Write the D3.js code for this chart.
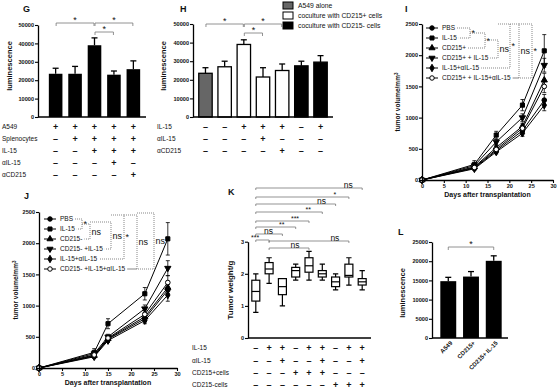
<!DOCTYPE html>
<html><head><meta charset="utf-8">
<script src="https://cdn.jsdelivr.net/npm/d3@7"></script>
<style>body{margin:0;background:#fff}svg{display:block}text{font-family:"Liberation Sans",Arial,sans-serif;fill:#111}</style>
</head><body><svg id="c" width="560" height="391"></svg>
<script>
// ---------- DATA ----------
const gConditions = ["A549","Splenocytes","IL-15","αIL-15","αCD215"];
const gSigns = [["+","+","+","+","+"],["-","+","+","+","+"],["-","-","+","+","+"],["-","-","-","+","-"],["-","-","-","-","+"]];
const gValues = [23500,23500,39000,23000,26000];
const gErrors = [3000,4000,4000,2000,4500];
const barTicks = [0,10000,20000,30000,40000,50000];
const gSig = [[0,2,0,"*"],[2,4,0,"*"],[2,3,1,"*"]];

const hLegend = ["A549 alone","coculture with CD215+ cells","coculture with CD215- cells"];
const hGroups = [0,1,1,1,1,2,2];
const hValues = [23500,27000,39000,21500,25000,27500,29500];
const hErrors = [3000,3000,2500,5000,3500,2500,3500];
const hConditions = ["IL-15","αIL-15","αCD215"];
const hSigns = [["-","-","+","+","+","-","+"],["-","-","-","+","-","-","-"],["-","-","-","-","+","-","-"]];
const hSig = [[0,2,0,"*"],[2,4,0,"*"],[2,3,1,"*"]];

const lineTicksY = [0,500,1000,1500,2000,2500];
const lineTicksX = [0,5,10,15,20,25,30];
const symbols = ["circle","square","triangle","triangleDown","diamond","open"];

const iDays = [0,12,17,23,28];
const iNames = ["PBS","IL-15","CD215+","CD215+ + IL-15","IL-15+αIL-15","CD215+ + IL-15+αIL-15"];
const iValues = [[0,190,470,790,1280],[0,250,720,1200,2070],[0,210,520,860,1600],[0,230,610,1000,1840],[0,180,450,750,1200],[0,200,490,830,1500]];
const iErrors = [[0,25,30,50,90],[0,60,60,90,260],[0,25,35,50,110],[0,30,40,60,110],[0,25,30,50,90],[0,25,35,50,100]];
const iBrackets = [[0,null,1,470,"*"],[null,33,2,485,"*"],[null,40,3,498,"ns"],[null,24,4,510,"*"],[null,24,5,519,"ns"],[null,24,5,532,"*"]];

const jDays = [0,12,15,23,28];
const jNames = ["PBS","IL-15","CD215-","CD215- +IL-15","IL-15+αIL-15","CD215- +IL-15+αIL-15"];
const jValues = [[0,190,460,790,1250],[0,250,710,1190,2070],[0,200,470,820,1290],[0,230,500,950,1600],[0,180,440,760,1170],[0,210,480,860,1370]];
const jErrors = [[0,25,30,50,90],[0,60,80,100,260],[0,25,30,50,100],[0,30,40,60,120],[0,25,30,50,100],[0,25,30,55,110]];
const jBrackets = [[0,null,1,82,"*"],[null,224,2,90,"ns"],[null,222,3,111,"ns"],[null,215,4,124,"*"],[null,215,5,137,"ns"],[null,213,5,154,"ns"]];

const kMin = [0.8,1.7,1.0,1.8,1.8,1.8,1.5,1.65,1.5];
const kQ1  = [1.15,2.0,1.35,1.9,2.05,1.9,1.6,1.9,1.65];
const kMed = [1.45,2.15,1.6,2.1,2.25,2.0,1.75,1.95,1.75];
const kQ3  = [1.8,2.35,1.85,2.2,2.5,2.1,1.9,2.3,1.85];
const kMax = [2.0,2.5,1.85,2.3,2.7,2.3,2.0,2.5,2.1];
const kTicks = [0,1,2,3];
const kConditions = ["IL-15","αIL-15","CD215+cells","CD215-cells"];
const kSigns = [["-","+","+","-","+","+","-","+","+"],["-","-","+","-","-","+","-","-","+"],["-","-","-","+","+","+","-","-","-"],["-","-","-","-","-","-","+","+","+"]];
const kSig = [[0,8,188,"ns"],[0,7,197,"*"],[0,6,204,"ns"],[0,5,212,"**"],[0,4,221,"***"],[0,3,227,"**"],[0,2,234,"ns"],[0,1,240,"***"],[1,7,241,"ns"],[1,4,248,"ns"]];

const lCategories = ["A549","CD215+","CD215+ IL-15"];
const lValues = [14800,16000,20100];
const lErrors = [1000,1300,1300];
const lTicks = [0,5000,10000,15000,20000,25000];

// ---------- HELPERS ----------
const svg = d3.select("#c");
const SANS = '"Liberation Sans",Arial,sans-serif';
const SERIF = '"Liberation Serif","Times New Roman",serif';

function title(x,y,t){svg.append("text").attr("x",x).attr("y",y).attr("font-size",9).attr("font-weight","bold").text(t);}
function yAxis(scale,x,ticks,fmt){
  const g = svg.append("g").attr("transform",`translate(${x},0)`)
    .call(d3.axisLeft(scale).tickValues(ticks).tickSize(3).tickSizeOuter(0).tickPadding(1).tickFormat(fmt||d3.format("d")));
  g.select(".domain").attr("stroke","#000").attr("stroke-width",1.3);
  g.selectAll(".tick line").attr("stroke","#000").attr("stroke-width",1.1);
  g.selectAll(".tick text").attr("font-size",5.6).attr("font-weight","bold").attr("font-family",SANS).attr("fill","#111");
  return g;
}
function yLabel(x,y,t,size){svg.append("text").attr("transform",`translate(${x},${y}) rotate(-90)`).attr("text-anchor","middle").attr("font-size",size||7.5).attr("font-weight","bold").text(t);}
function hline(x1,x2,y,w){svg.append("line").attr("x1",x1).attr("x2",x2).attr("y1",y).attr("y2",y).attr("stroke","#000").attr("stroke-width",w||1.3);}
function signTable(xs,conds,signs,rowsY,labelX){
  conds.forEach((c,r)=>{
    svg.append("text").attr("x",labelX).attr("y",rowsY[r]).attr("dy","0.35em").attr("font-size",6.5).attr("fill","#333").text(c);
    signs[r].forEach((s,i)=>{
      svg.append("text").attr("x",xs(i)).attr("y",rowsY[r]).attr("dy","0.35em").attr("text-anchor","middle")
        .attr("font-size",9).attr("font-weight","bold").text(s==="+"?"+":"–");
    });
  });
}
function barSig(xc,sig,yBase,step){
  sig.forEach(([a,b,lvl,lab])=>{
    const y = yBase + lvl*step;
    const x1 = xc(a)+0.5, x2 = xc(b)-0.5;
    svg.append("path").attr("d",`M${x1},${y+3}V${y}H${x2}V${y+3}`).attr("fill","none").attr("stroke","#777").attr("stroke-width",0.8);
    svg.append("text").attr("x",(x1+x2)/2).attr("y",y-0.5).attr("text-anchor","middle").attr("font-size",9).attr("fill","#555").text(lab);
  });
}
function errBar(x,yTop,yVal,w){
  svg.append("line").attr("x1",x).attr("x2",x).attr("y1",yVal).attr("y2",yTop).attr("stroke","#000").attr("stroke-width",1.3);
  svg.append("line").attr("x1",x-w).attr("x2",x+w).attr("y1",yTop).attr("y2",yTop).attr("stroke","#000").attr("stroke-width",1.3);
}
function marker(g,x,y,type,size){
  let sym, rot=0, fill="#000";
  if(type==="circle") sym=d3.symbolCircle;
  else if(type==="square") sym=d3.symbolSquare;
  else if(type==="triangle") sym=d3.symbolTriangle;
  else if(type==="triangleDown"){sym=d3.symbolTriangle;rot=180;}
  else if(type==="diamond") sym=d3.symbolDiamond;
  else {sym=d3.symbolCircle;fill="#fff";}
  g.append("path").attr("d",d3.symbol().type(sym).size(size||16)()).attr("transform",`translate(${x},${y}) rotate(${rot})`)
    .attr("fill",fill).attr("stroke","#000").attr("stroke-width",1);
}

// ---------- PANEL G ----------
title(23,12,"G");
const yG = d3.scaleLinear().domain([0,50000]).range([117,25]);
const xG = d3.scaleBand().domain(d3.range(gValues.length)).range([43,146]).padding(0.3);
const cG = i=>xG(i)+xG.bandwidth()/2;
gValues.forEach((v,i)=>{
  errBar(cG(i),yG(v+gErrors[i]),yG(v),3);
  svg.append("rect").attr("x",xG(i)).attr("y",yG(v)).attr("width",xG.bandwidth()).attr("height",yG(0)-yG(v)).attr("fill","#000");
});
yAxis(yG,38,barTicks);
hline(38,146,117);
yLabel(12,66,"luminescence");
barSig(cG,gSig,23,9);
signTable(cG,gConditions,gSigns,[127,139,151,163,175],2);

// ---------- PANEL H ----------
title(180,12,"H");
const yH = d3.scaleLinear().domain([0,50000]).range([117,24]);
const xH = d3.scaleBand().domain(d3.range(hValues.length)).range([193,333]).padding(0.3);
const cH = i=>xH(i)+xH.bandwidth()/2;
const hFill = ["#666","#fff","#000"];
hValues.forEach((v,i)=>{
  errBar(cH(i),yH(v+hErrors[i]),yH(v),3);
  svg.append("rect").attr("x",xH(i)).attr("y",yH(v)).attr("width",xH.bandwidth()).attr("height",yH(0)-yH(v))
    .attr("fill",hFill[hGroups[i]]).attr("stroke","#000").attr("stroke-width",1.3);
});
yAxis(yH,193,barTicks);
hline(193,333,117);
yLabel(166,66,"luminescence");
barSig(cH,hSig,24,9);
signTable(cH,hConditions,hSigns,[127,139,151],157);
hLegend.forEach((t,i)=>{
  svg.append("rect").attr("x",283).attr("y",2+i*10).attr("width",10).attr("height",7).attr("fill",hFill[i]).attr("stroke","#000").attr("stroke-width",1);
  svg.append("text").attr("x",298).attr("y",5.5+i*10).attr("dy","0.35em").attr("font-size",6.8).text(t);
});

// ---------- LINE PANELS ----------
function linePanel(cfg){
  const x = d3.scaleLinear().domain([0,30]).range(cfg.xr);
  const y = d3.scaleLinear().domain([0,2500]).range(cfg.yr);
  const g = svg.append("g");
  cfg.values.forEach((vals,s)=>{
    const pts = cfg.days.map((d,i)=>[x(d),y(vals[i])]);
    g.append("path").attr("d",d3.line()(pts)).attr("fill","none").attr("stroke","#000").attr("stroke-width",1);
    cfg.days.forEach((d,i)=>{
      const e = cfg.errors[s][i];
      if(e>0){
        const px=x(d);
        g.append("path").attr("d",`M${px},${y(vals[i]-e)}V${y(vals[i]+e)}M${px-2},${y(vals[i]+e)}H${px+2}M${px-2},${y(vals[i]-e)}H${px+2}`)
          .attr("stroke","#000").attr("stroke-width",0.8).attr("fill","none");
      }
    });
  });
  cfg.values.forEach((vals,s)=>cfg.days.forEach((d,i)=>marker(g,x(d),y(vals[i]),symbols[s],17)));
  yAxis(y,cfg.xr[0],lineTicksY);
  const ax = svg.append("g").attr("transform",`translate(0,${cfg.yr[0]})`)
    .call(d3.axisBottom(x).tickValues(lineTicksX).tickSize(3).tickSizeOuter(0).tickPadding(1));
  ax.select(".domain").attr("stroke","#000").attr("stroke-width",1.3);
  ax.selectAll(".tick line").attr("stroke","#000").attr("stroke-width",1.1);
  ax.selectAll(".tick text").attr("font-size",5.6).attr("font-weight","bold").attr("font-family",SANS).attr("fill","#111");
  svg.append("text").attr("x",(cfg.xr[0]+cfg.xr[1])/2).attr("y",cfg.yr[0]+17).attr("text-anchor","middle").attr("font-size",7).attr("font-weight","bold").text("Days after transplantation");
  const yl = svg.append("text").attr("transform",`translate(${cfg.ylx},${(cfg.yr[0]+cfg.yr[1])/2}) rotate(-90)`).attr("text-anchor","middle").attr("font-size",6.5).attr("font-weight","bold");
  yl.append("tspan").text("tumor volume/mm");
  yl.append("tspan").attr("dy",-2.5).attr("font-size",4.5).text("3");
  const ends = [];
  cfg.names.forEach((n,i)=>{
    const ly = cfg.legY + i*cfg.legStep;
    svg.append("line").attr("x1",cfg.legX-6).attr("x2",cfg.legX+6).attr("y1",ly).attr("y2",ly).attr("stroke","#000").attr("stroke-width",1);
    marker(svg,cfg.legX,ly,symbols[i],16);
    const t = svg.append("text").attr("x",cfg.legX+10).attr("y",ly).attr("dy","0.35em").attr("font-size",6.5).text(n);
    ends.push(cfg.legX+10+t.node().getComputedTextLength()+2);
  });
  const rowY = i=>cfg.legY + i*cfg.legStep;
  let prevX = null;
  cfg.brackets.forEach(([topRow,topY,botRow,xv,lab])=>{
    const yt = topRow!==null ? rowY(topRow) : topY;
    const xs = topRow!==null ? ends[topRow] : prevX;
    const yb = rowY(botRow);
    svg.append("path").attr("d",`M${xs},${yt}H${xv}V${yb}H${ends[botRow]}`).attr("fill","none").attr("stroke","#555").attr("stroke-width",0.7).attr("stroke-dasharray","1,1");
    svg.append("text").attr("x",xv+1.5).attr("y",(yt+yb)/2).attr("dy","0.35em").attr("font-family",SERIF).attr("font-size",9).attr("fill","#444").text(lab);
    prevX = xv;
  });
}
title(405,12,"I");
linePanel({xr:[422,553],yr:[180,24],days:iDays,values:iValues,errors:iErrors,names:iNames,ylx:400,legX:432,legY:28,legStep:10,brackets:iBrackets});
title(24,199,"J");
linePanel({xr:[39,177],yr:[368,212],days:jDays,values:jValues,errors:jErrors,names:jNames,ylx:18,legX:50,legY:219,legStep:10,brackets:jBrackets});

// ---------- PANEL K ----------
title(228,195,"K");
const yK = d3.scaleLinear().domain([0,3]).range([338,241.7]);
const xK = d3.scaleBand().domain(d3.range(kMed.length)).range([246.5,371.5]).padding(0.4);
const cK = i=>xK(i)+xK.bandwidth()/2;
kMed.forEach((m,i)=>{
  const c=cK(i), w=xK.bandwidth();
  svg.append("path").attr("d",`M${c},${yK(kMin[i])}V${yK(kQ1[i])}M${c},${yK(kQ3[i])}V${yK(kMax[i])}M${c-w/3},${yK(kMin[i])}H${c+w/3}M${c-w/3},${yK(kMax[i])}H${c+w/3}`)
    .attr("stroke","#000").attr("stroke-width",1.2).attr("fill","none");
  svg.append("rect").attr("x",xK(i)).attr("y",yK(kQ3[i])).attr("width",w).attr("height",yK(kQ1[i])-yK(kQ3[i])).attr("fill","#fff").attr("stroke","#000").attr("stroke-width",1.2);
  hline(xK(i),xK(i)+w,yK(m),1.2);
});
yAxis(yK,248,kTicks);
hline(248,371,338);
yLabel(233,290,"Tumor weight/g",8);
kSig.forEach(([a,b,y,lab])=>{
  const x1=cK(a), x2=cK(b);
  svg.append("path").attr("d",`M${x1},${y+2}V${y}H${x2}V${y+2}`).attr("fill","none").attr("stroke","#666").attr("stroke-width",0.7);
  svg.append("text").attr("x",x2-14).attr("y",y-0.5).attr("text-anchor","middle").attr("font-family",SERIF).attr("font-size",lab==="ns"?8.5:7).attr("fill","#555").text(lab);
});
signTable(cK,kConditions,kSigns,[348,361,373,385],192);

// ---------- PANEL L ----------
title(398,235,"L");
const yL = d3.scaleLinear().domain([0,25000]).range([338,242]);
const xL = d3.scaleBand().domain(lCategories).range([433.5,508.5]).padding(0.3);
lCategories.forEach((c,i)=>{
  const cx = xL(c)+xL.bandwidth()/2;
  errBar(cx,yL(lValues[i]+lErrors[i]),yL(lValues[i]),3);
  svg.append("rect").attr("x",xL(c)).attr("y",yL(lValues[i])).attr("width",xL.bandwidth()).attr("height",yL(0)-yL(lValues[i])).attr("fill","#000");
  svg.append("text").attr("transform",`translate(${cx+3},${342}) rotate(-45)`).attr("text-anchor","end").attr("dy","0.35em").attr("font-size",6).attr("font-weight","bold").text(c);
});
yAxis(yL,432,lTicks);
hline(432,508,338);
yLabel(405,293,"luminescence");
{
  const x1=xL("A549")+xL.bandwidth()/2, x2=xL("CD215+ IL-15")+xL.bandwidth()/2, y=247;
  svg.append("path").attr("d",`M${x1},${y+3}V${y}H${x2}V${y+3}`).attr("fill","none").attr("stroke","#777").attr("stroke-width",0.8);
  svg.append("text").attr("x",(x1+x2)/2).attr("y",y-0.5).attr("text-anchor","middle").attr("font-size",9).attr("fill","#555").text("*");
}
</script></body></html>
